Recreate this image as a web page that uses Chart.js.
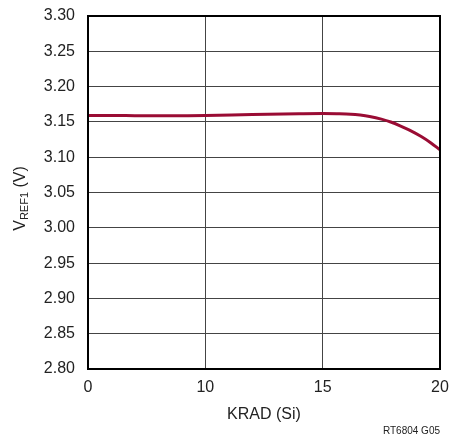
<!DOCTYPE html>
<html>
<head>
<meta charset="utf-8">
<script src="https://cdn.jsdelivr.net/npm/chart.js@4.4.1/dist/chart.umd.min.js"></script>
<style>
  html, body { margin: 0; padding: 0; background: #ffffff; }
  canvas { display: block; }
</style>
</head>
<body>
<canvas id="c" width="451" height="438"></canvas>
<script>
// ---- data ----
const xTickLabels = [0, 10, 15, 20];          // KRAD tick labels (equally spaced on the axis)
const yTickMin = 2.80, yTickMax = 3.30, yTickStep = 0.05;
const kradValues = [0, 2, 4, 6, 8, 10, 12, 14, 15, 15.6, 16.2, 16.6, 17.0, 17.5, 17.9, 18.3, 18.7, 19.2, 19.6, 20];
const vrefValues = [3.159, 3.159, 3.1588, 3.1587, 3.1588, 3.159, 3.1605, 3.1615, 3.1618, 3.1616, 3.161, 3.1597, 3.1577, 3.154, 3.1499, 3.1445, 3.1383, 3.1292, 3.1205, 3.1105];
const xTitle = 'KRAD (Si)';
const yTitleMain = 'V', yTitleSub = 'REF1', yTitleTail = ' (V)';
const footnote = 'RT6804 G05';

// map KRAD to axis position (ticks are equally spaced, piecewise linear between them)
function kradToAxis(k) {
  for (let i = 0; i < xTickLabels.length - 1; i++) {
    const a = xTickLabels[i], b = xTickLabels[i + 1];
    if (k <= b || i === xTickLabels.length - 2) return i + (k - a) / (b - a);
  }
  return 0;
}
const points = kradValues.map((k, i) => ({ x: kradToAxis(k), y: vrefValues[i] }));

const FONT = '"Liberation Sans", Arial, sans-serif';

const textPlugin = {
  id: 'texts',
  afterDraw(chart) {
    const ctx = chart.ctx, a = chart.chartArea;
    ctx.save();
    // frame
    ctx.strokeStyle = '#000';
    ctx.lineWidth = 2;
    ctx.strokeRect(a.left, a.top, a.right - a.left, a.bottom - a.top);
    ctx.fillStyle = '#222';
    // x title
    ctx.font = '16px ' + FONT;
    ctx.textAlign = 'center';
    ctx.textBaseline = 'middle';
    ctx.fillText(xTitle, (a.left + a.right) / 2, 415);
    // footnote
    ctx.font = '10px ' + FONT;
    ctx.textAlign = 'right';
    ctx.fillText(footnote, a.right, 431);
    // y title (rotated, with subscript)
    ctx.translate(19, (a.top + a.bottom) / 2 + 6);
    ctx.rotate(-Math.PI / 2);
    ctx.textAlign = 'left';
    ctx.textBaseline = 'alphabetic';
    const big = '16px ' + FONT, small = '11px ' + FONT;
    ctx.font = big; const w1 = ctx.measureText(yTitleMain).width;
    const w3 = ctx.measureText(yTitleTail).width;
    ctx.font = small; const w2 = ctx.measureText(yTitleSub).width;
    let x = -(w1 + w2 + w3) / 2;
    const base = 6;
    ctx.font = big; ctx.fillText(yTitleMain, x, base); x += w1;
    ctx.font = small; ctx.fillText(yTitleSub, x, base + 3); x += w2;
    ctx.font = big; ctx.fillText(yTitleTail, x, base);
    ctx.restore();
  }
};

new Chart(document.getElementById('c'), {
  type: 'scatter',
  data: {
    datasets: [{
      data: points,
      showLine: true,
      borderColor: '#9a0c34',
      borderWidth: 3,
      pointRadius: 0,
      fill: false,
      cubicInterpolationMode: 'monotone'
    }]
  },
  options: {
    responsive: false,
    animation: false,
    devicePixelRatio: 1,
    layout: { padding: { left: 0, right: 11, top: 16, bottom: 0 } },
    plugins: { legend: { display: false }, tooltip: { enabled: false } },
    scales: {
      x: {
        type: 'linear',
        min: 0,
        max: xTickLabels.length - 1,
        afterFit(s) { s.height = 69; s.paddingLeft = 0; s.paddingRight = 0; },
        ticks: {
          stepSize: 1,
          padding: 9,
          color: '#222',
          font: { family: FONT, size: 16 },
          maxRotation: 0,
          callback: (v) => (Number.isInteger(v) ? String(xTickLabels[v]) : '')
        },
        grid: { color: '#444', lineWidth: 1, drawTicks: false },
        border: { display: false }
      },
      y: {
        type: 'linear',
        min: yTickMin,
        max: yTickMax,
        afterFit(s) { s.width = 88; s.paddingTop = 0; s.paddingBottom = 0; },
        ticks: {
          stepSize: yTickStep,
          padding: 13,
          color: '#222',
          font: { family: FONT, size: 16 },
          callback: (v) => v.toFixed(2)
        },
        grid: { color: '#444', lineWidth: 1, drawTicks: false },
        border: { display: false }
      }
    }
  },
  plugins: [textPlugin]
});
</script>
</body>
</html>
